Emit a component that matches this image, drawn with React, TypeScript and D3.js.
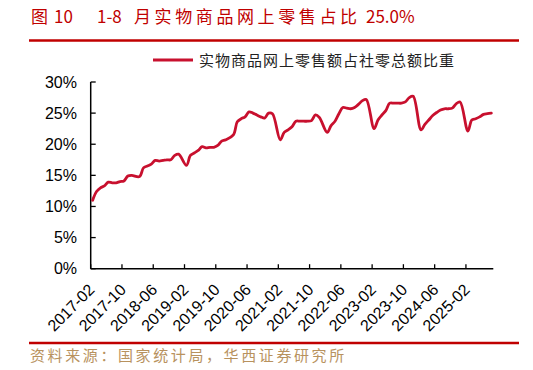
import React from "react";
import * as d3 from "d3";

// ---- data (cumulative Jan–N share, %, January not reported) ----
const v2017 = [11.0, 12.4, 13.0, 13.3, 13.9, 13.8, 13.8, 14.0, 14.1, 14.9, 15.0]; // Feb-Dec
const v2018 = [14.8, 16.2, 16.5, 16.8, 17.4, 17.3, 17.4, 17.5, 17.5, 18.2, 18.4];
const v2019 = [16.6, 18.2, 18.6, 19.0, 19.6, 19.4, 19.5, 19.5, 19.8, 20.5, 20.7];
const v2020 = [21.5, 23.6, 24.1, 24.4, 25.2, 25.0, 24.7, 24.4, 24.2, 25.0, 24.9];
const v2021 = [20.7, 21.9, 22.3, 22.8, 23.7, 23.7, 23.7, 23.7, 23.8, 24.7, 24.3];
const v2022 = [21.9, 23.0, 23.7, 24.9, 25.9, 25.8, 25.7, 25.9, 26.4, 27.0, 27.2];
const v2023 = [22.5, 23.9, 24.7, 25.4, 26.6, 26.6, 26.6, 26.6, 26.8, 27.5, 27.7];
const v2024 = [22.3, 23.2, 23.9, 24.6, 25.1, 25.5, 25.7, 25.7, 25.8, 26.5, 26.8];
const v2025 = [22.1, 23.9, 24.1, 24.4, 24.8, 24.9, 25.0]; // Feb-Aug

const years = [2017, 2018, 2019, 2020, 2021, 2022, 2023, 2024, 2025];
const yearValues = [v2017, v2018, v2019, v2020, v2021, v2022, v2023, v2024, v2025];

const xTickLabels = [
  "2017-02", "2017-10", "2018-06", "2019-02", "2019-10", "2020-06", "2021-02",
  "2021-10", "2022-06", "2023-02", "2023-10", "2024-06", "2025-02",
];
const yTicks = [0, 5, 10, 15, 20, 25, 30];

const legendLabel = "实物商品网上零售额占社零总额比重";
const sourceText = "资料来源：国家统计局，华西证券研究所";

const fmtKey = d3.timeFormat("%Y-%m");

export default function App() {
  // all monthly categories from 2017-02 to 2025-08
  const allMonths = d3.timeMonth.range(new Date(2017, 1, 1), new Date(2025, 8, 1)).map(fmtKey);

  const data: { key: string; v: number }[] = [];
  years.forEach((yr, i) => {
    yearValues[i].forEach((v, j) => {
      data.push({ key: `${yr}-${String(j + 2).padStart(2, "0")}`, v });
    });
  });

  const left = 90.7, right = 493.3, top = 82, bottom = 268.7;
  const x = d3.scaleBand<string>().domain(allMonths).range([left, right]).padding(0);
  const y = d3.scaleLinear().domain([0, 30]).range([bottom, top]);
  const cx = (k: string) => (x(k) as number) + x.bandwidth() / 2;

  const line = d3
    .line<{ key: string; v: number }>()
    .x((d) => cx(d.key))
    .y((d) => y(d.v))
    .curve(d3.curveCatmullRom.alpha(0.5));

  const red = "#c00000";
  const lineRed = "#c8102e";
  const cjk = "'Noto Sans CJK SC', 'Noto Sans', sans-serif";
  const latin = "'Liberation Sans', Arial, sans-serif";

  return (
    <svg
      width={533}
      height={370}
      style={{ position: "absolute", left: 0, top: 0, background: "#fff" }}
    >
      {/* title */}
      <text y={23} fill={red} fontFamily={cjk} fontSize={17}>
        <tspan x={31}>图</tspan>
        <tspan x={54}>10</tspan>
        <tspan x={97}>1-8</tspan>
        <tspan x={134} letterSpacing={3.6}>月实物商品网上零售占比</tspan>
        <tspan x={366}>25.0%</tspan>
      </text>
      <line x1={29} x2={519} y1={40.5} y2={40.5} stroke={red} strokeWidth={2.5} />

      {/* legend */}
      <line x1={153} x2={193} y1={60} y2={60} stroke={lineRed} strokeWidth={3} />
      <text x={199} y={65.5} fontFamily={cjk} fontSize={15} letterSpacing={1} fill="#222">
        {legendLabel}
      </text>

      {/* y axis */}
      <line x1={left} x2={left} y1={top} y2={bottom} stroke="#000" strokeWidth={1.5} />
      {yTicks.map((t) => (
        <g key={t}>
          <line x1={left} x2={left + 5} y1={y(t)} y2={y(t)} stroke="#000" strokeWidth={1.3} />
          <text
            x={77}
            y={y(t)}
            dy="0.36em"
            textAnchor="end"
            fontFamily={latin}
            fontSize={16}
            fill="#000"
          >
            {`${t}%`}
          </text>
        </g>
      ))}

      {/* x axis */}
      <line x1={left} x2={right} y1={bottom} y2={bottom} stroke="#000" strokeWidth={1.5} />
      {xTickLabels.map((lab) => {
        const tx = x(lab) as number;
        return (
          <g key={lab}>
            <line x1={tx} x2={tx} y1={bottom} y2={bottom - 4.5} stroke="#000" strokeWidth={1.3} />
            <text
              transform={`translate(${cx(lab) + 3},${bottom + 22}) rotate(-45)`}
              textAnchor="end"
              fontFamily={latin}
              fontSize={16}
              fill="#000"
            >
              {lab}
            </text>
          </g>
        );
      })}

      {/* series */}
      <path
        d={line(data) || ""}
        fill="none"
        stroke={lineRed}
        strokeWidth={2.8}
        strokeLinejoin="round"
        strokeLinecap="round"
      />

      {/* source */}
      <line x1={29} x2={519} y1={343} y2={343} stroke={red} strokeWidth={2.5} />
      <text x={30} y={361} fontFamily={cjk} fontSize={15} letterSpacing={2.6} fill="#b8925e">
        {sourceText}
      </text>
    </svg>
  );
}
